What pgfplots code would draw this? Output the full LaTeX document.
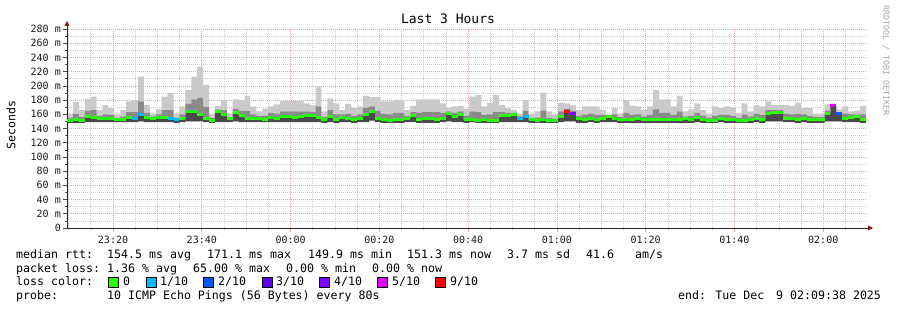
\documentclass[border=0pt]{standalone}
\usepackage{fontspec}
\setmainfont{DejaVu Sans Mono}
\usepackage{pgfplots}
\pgfplotsset{compat=1.18}
\usepackage{pgfplotstable}
\usetikzlibrary{arrows.meta}
\definecolor{l0}{HTML}{26FF00}
\definecolor{l1}{HTML}{00B8FF}
\definecolor{l2}{HTML}{0059FF}
\definecolor{l3}{HTML}{5E00FF}
\definecolor{l4}{HTML}{7E00FF}
\definecolor{l5}{HTML}{DD00FF}
\definecolor{l9}{HTML}{FF0000}
\definecolor{gmaj}{RGB}{240,160,160}
\definecolor{gmin}{RGB}{205,205,205}
\definecolor{s1}{HTML}{4A4A4A}
\definecolor{s2}{HTML}{8A8A8A}
\definecolor{s3}{HTML}{CACACA}
\definecolor{arr}{RGB}{128,30,30}

\pgfplotstableread{
k min med q max c
0 148 151 155 161 a
1 148 152 161 177 a
2 148 151 156 166 a
3 149 156.7 165 181.6 a
4 149 156 166 185 a
5 149 154 158 166 a
6 149 153.5 160 173 a
7 149 153.5 159 168.5 a
8 149 152 155 159 a
9 149 152 157 166 a
10 149 155 163 178 a
11 149 154 163 180 b
12 150 160 178 213 b
13 149 156 162 173 a
14 149 154 157 161 a
15 149 156 160 167 a
16 149 156 166 185 a
17 149 154 166 189.6 b
18 148 152 155 161 b
19 149 153.5 160 171 a
20 150 164 175 194 a
21 150 164 181 213 a
22 150 160 183 227 a
23 149 153.5 170 201 a
24 148 151 155 161 a
25 149 164 167 172 a
26 149 159 166 180 a
27 149 154 156 161 a
28 150 162 168 181 a
29 149 158 165 180 a
30 149 154 165 186 a
31 149 154 160 171 a
32 149 154 158 164 a
33 149 152 158 168 a
34 149 156 162 171 a
35 149 154.5 161 174 a
36 149 156.7 164 179 a
37 149 156.7 164 179 a
38 149 156 164 179 a
39 149 156.7 164 179 a
40 149 157.6 164 175.5 a
41 149 157.6 163 173 a
42 149 156 171 199 a
43 148 152 156 164 a
44 149 156.7 166 182.5 a
45 148 152 160 175.5 a
46 149 156 160 166 a
47 149 154.4 161 174.5 a
48 148 152 158 168.5 a
49 149 154.4 160 171 a
50 149 159 169 186 a
51 151 163.8 171 184 a
52 149 154.4 165 184 a
53 148 152 161 178 a
54 148 150.6 160 178 a
55 148 153 162 180 a
56 148 152 162 180 a
57 149 154 158 166 a
58 149 157.6 163 172 a
59 148 152 162 181 a
60 148 153.4 163 181 a
61 148 153.4 163 181 a
62 148 153 163 181 a
63 149 154.4 162 175.5 a
64 150 161.4 164 169 a
65 149 156.7 162 171 a
66 149 159 164 172 a
67 148 152 158 168 a
68 149 153 164 185 a
69 148 150.6 163 187 a
70 148 152 159 171 a
71 148 150.6 160 176.5 a
72 148 151 163 187 a
73 149 157.6 163 173 a
74 149 157.6 162 168.5 a
75 149 159 162 166 a
76 149 154 157 161 b
77 149 156.7 165 180 b
78 148 152 155 161 a
79 148 151 155 164 a
80 148 152 165 190.5 a
81 148 150.6 155 164 a
82 148 150.6 154 159 a
83 149 156.7 164 176.5 a
84 150 163.8 168 175.5 g
85 150 161.4 165 172.7 e
86 148 153.4 158 166 a
87 148 152 159 171 a
88 149 154.4 161 171 a
89 148 152 159 171 a
90 149 154.4 159 166 a
91 149 156.7 158 159 a
92 149 154.4 160 168.5 a
93 148 153 156 161 a
94 148 153 162 180 a
95 148 152 159 172 a
96 148 153.4 160 171 a
97 148 152 157 166 a
98 148 152 159 171 a
99 148 153 167 194 a
100 148 152 162 181 a
101 148 152 162 181 a
102 148 153 159 171 a
103 148 153 164 186 a
104 148 153.4 157 164 a
105 148 153 158 167 a
106 149 155.3 162 175.5 a
107 148 153 158 166 a
108 148 151 155 161 a
109 148 151 158 171 a
110 149 154.4 159 168.5 a
111 148 152 159 171 a
112 148 152 158 170 a
113 148 150.6 155 162 a
114 148 150.6 160 175.5 a
115 148 153 157 164 a
116 149 154.4 161 173 a
117 148 152 159 171 a
118 150 161.4 166 178 a
119 150 162.3 166 173 a
120 150 162.3 166 173 a
121 149 154.4 161 173 a
122 149 154.4 160 172 a
123 148 153 161 176.5 a
124 149 154.4 160 169 a
125 148 152 158 168.5 a
126 148 152 156 161 a
127 148 152 156 161 a
128 150 160.5 165 174 a
129 150 171.7 173 175.5 f
130 150 160.5 163 167 c
131 149 154.4 161 171 a
132 149 156 160 164 a
133 149 156.7 160 165 a
134 148 152 160 172 a
}\smoke

\pgfplotsset{
  base/.style={
    at={(67pt,82pt)}, anchor=south west, scale only axis,
    width=799pt, height=199pt,
    xmin=9.6333, xmax=189.6333, ymin=0, ymax=280,
    xtick={20,40,...,180},
    minor xtick={10,15,...,185},
    ytick={0,20,...,280},
    minor ytick={10,30,...,270},
  },
}
\newcommand{\xe}{9.6333+1.333333*(\coordindex+0.5)}

\begin{document}
\begin{tikzpicture}[x=1pt,y=1pt]
\path[use as bounding box] (0,0) rectangle (897,310);

% layer 1: grid and smoke
\begin{axis}[base,
  grid=both,
  major grid style={gmaj, dash pattern=on 1pt off 1pt, line width=0.7pt},
  minor grid style={gmin, dash pattern=on 1pt off 1pt, line width=0.7pt},
  axis line style={draw=none},
  xticklabels={}, yticklabels={},
  major tick length=0pt, minor tick length=0pt,
  ybar stacked, bar width=1.333333]
\addplot[draw=none, fill=none] table[x expr=\xe, y=min]{\smoke};
\addplot[draw=none, fill=s1] table[x expr=\xe, y expr=\thisrow{med}-\thisrow{min}]{\smoke};
\addplot[draw=none, fill=s2] table[x expr=\xe, y expr=\thisrow{q}-\thisrow{med}]{\smoke};
\addplot[draw=none, fill=s3] table[x expr=\xe, y expr=\thisrow{max}-\thisrow{q}]{\smoke};
\end{axis}

% layer 2: median, axes, ticks
\begin{axis}[base,
  axis x line=bottom, axis y line=left,
  axis line style={black!85, line width=0.8pt},
  x axis line style={-{Triangle[length=5pt,width=5pt,color=arr]}, shorten >=-7pt},
  y axis line style={-{Triangle[length=5pt,width=5pt,color=arr]}, shorten >=-8pt},
  tick align=outside,
  major tick length=4pt, minor tick length=2pt,
  tick style={black!70, line width=0.6pt},
  xtick style={gmaj},
  xticklabels={23:20,23:40,00:00,00:20,00:40,01:00,01:20,01:40,02:00},
  yticklabels={0,20 m,40 m,60 m,80 m,100 m,120 m,140 m,160 m,180 m,200 m,220 m,240 m,260 m,280 m},
  tick label style={font=\fontsize{10}{12}\selectfont, black!90},
  yticklabel style={inner sep=1pt, xshift=-1pt},
  xticklabel style={yshift=-1pt},
  ]
\addplot[black, line width=0.8pt, jump mark mid, no marks] table[x expr=\xe, y=med]{\smoke};
\addplot[scatter, only marks, mark=-, mark size=2.96pt,
  mark options={line width=3pt},
  point meta=explicit symbolic,
  scatter/classes={
    a={mark=-,draw=l0}, b={mark=-,draw=l1}, c={mark=-,draw=l2},
    d={mark=-,draw=l3}, e={mark=-,draw=l4}, f={mark=-,draw=l5}, g={mark=-,draw=l9}}]
  table[x expr=\xe, y=med, meta=c]{\smoke};
\end{axis}

% title, labels
\node[anchor=base, inner sep=0] at (448,286) {\fontsize{13}{15}\selectfont Last 3 Hours};
\node[rotate=90, inner sep=0] at (11,185) {\fontsize{11.6}{13}\selectfont Seconds};
\node[rotate=-90, anchor=west, inner sep=0, text=black!35] at (886,305) {\fontsize{8.3}{10}\selectfont RRDTOOL / TOBI OETIKER};

% legend text
\begin{scope}[every node/.style={anchor=base west, inner sep=0, font=\fontsize{11.6}{13}\selectfont}]
\node at (16,51) {median rtt:};
\node at (107,51) {154.5 ms avg};
\node at (207,51) {171.1 ms max};
\node at (308,51) {149.9 ms min};
\node at (407,51) {151.3 ms now};
\node at (507,51) {3.7 ms sd};
\node at (586,51) {41.6};
\node at (635,51) {am/s};
\node at (16,37.5) {packet loss:};
\node at (107,37.5) {1.36 \% avg};
\node at (193,37.5) {65.00 \% max};
\node at (286,37.5) {0.00 \% min};
\node at (372,37.5) {0.00 \% now};
\node at (16,24) {loss color:};
\node at (123,24) {0};
\node at (160,24) {1/10};
\node at (218,24) {2/10};
\node at (276,24) {3/10};
\node at (334,24) {4/10};
\node at (392,24) {5/10};
\node at (450,24) {9/10};
\node at (16,10.5) {probe:};
\node at (107,10.5) {10 ICMP Echo Pings (56 Bytes) every 80s};
\node at (678,10.5) {end: Tue Dec};
\node at (776,10.5) {9 02:09:38 2025};
\end{scope}
\foreach \bx/\col in {108/l0,146/l1,203/l2,262/l3,319/l4,377/l5,435/l9}{
  \draw[fill=\col, draw=black, line width=0.6pt] (\bx,23) rectangle ++(10,10);
}
\end{tikzpicture}
\end{document}
